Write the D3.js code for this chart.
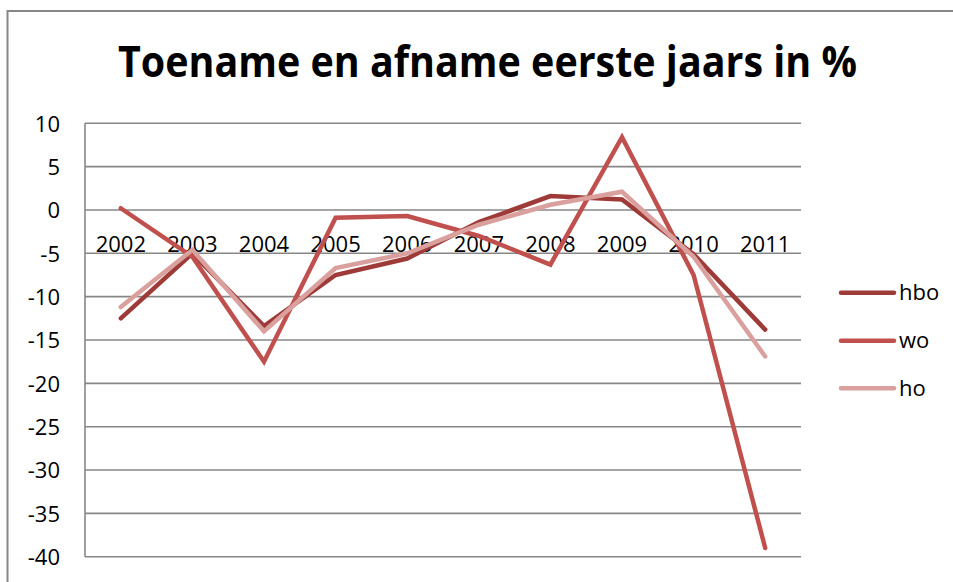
<!DOCTYPE html>
<html>
<head>
<meta charset="utf-8">
<script src="https://cdn.jsdelivr.net/npm/d3@7/dist/d3.min.js"></script>
<style>
  html, body { margin: 0; padding: 0; background: #fff; }
  svg { display: block; }
  text { font-family: "Open Sans", "Liberation Sans", sans-serif; fill: #000; }
</style>
</head>
<body>
<svg id="chart" width="953" height="582"></svg>
<script>
const years = ["2002","2003","2004","2005","2006","2007","2008","2009","2010","2011"];
const hbo = [-12.5, -5.0, -13.4, -7.5, -5.6, -1.4, 1.6, 1.2, -5.1, -13.8];
const wo  = [0.2, -5.4, -17.5, -0.9, -0.7, -3.0, -6.3, 8.4, -7.5, -39.0];
const ho  = [-11.2, -4.6, -14.0, -6.7, -5.0, -1.7, 0.6, 2.1, -5.4, -16.9];
const seriesNames = ["hbo", "wo", "ho"];
const seriesColors = ["#9E3B38", "#C0504D", "#D9A09E"];
const yTicks = [10, 5, 0, -5, -10, -15, -20, -25, -30, -35, -40];
const title = "Toename en afname eerste jaars in %";

const svg = d3.select("#chart");
const W = 953, H = 582;
const plot = { left: 85, right: 801, top: 123.3, bottom: 556.7 };

// chart border
svg.append("path")
  .attr("d", `M7.5,${H + 5} L7.5,11 L${W + 5},11`)
  .attr("fill", "none").attr("stroke", "#878787").attr("stroke-width", 2);

// title
svg.append("text")
  .attr("x", 118).attr("y", 77)
  .attr("font-size", 43).attr("font-weight", "bold")
  .attr("textLength", 739).attr("lengthAdjust", "spacingAndGlyphs")
  .text(title);

const x = d3.scaleBand().domain(years).range([plot.left, plot.right]);
const y = d3.scaleLinear().domain([-40, 10]).range([plot.bottom, plot.top]);

// gridlines
svg.append("g").selectAll("line").data(yTicks).join("line")
  .attr("x1", plot.left).attr("x2", plot.right)
  .attr("y1", d => y(d)).attr("y2", d => y(d))
  .attr("stroke", "#878787").attr("stroke-width", 1.6);

// left axis line
svg.append("line")
  .attr("x1", plot.left).attr("x2", plot.left)
  .attr("y1", plot.top).attr("y2", plot.bottom)
  .attr("stroke", "#878787").attr("stroke-width", 1.6);

// y tick labels
const yAxis = d3.axisLeft(y).tickValues(yTicks).tickSize(0).tickPadding(0).tickFormat(d => String(d));
const ya = svg.append("g").attr("transform", "translate(60,0)").call(yAxis);
ya.select(".domain").remove();
ya.selectAll("text").attr("font-size", 22).attr("font-family", '"Open Sans", sans-serif').attr("dy", "0.35em").attr("fill", "#000");

// x category labels near zero line
const xAxis = d3.axisBottom(x).tickSize(0).tickPadding(0);
const xa = svg.append("g").attr("transform", `translate(0,${y(0)})`).call(xAxis);
xa.select(".domain").remove();
xa.selectAll("text").attr("font-size", 22).attr("font-family", '"Open Sans", sans-serif').attr("y", 42.5).attr("dy", 0).attr("fill", "#000");

// lines
const allSeries = [hbo, wo, ho];
const line = d3.line()
  .x((d, i) => x(years[i]) + x.bandwidth() / 2)
  .y(d => y(d));
allSeries.forEach((s, k) => {
  svg.append("path").datum(s)
    .attr("d", line)
    .attr("fill", "none")
    .attr("stroke", seriesColors[k])
    .attr("stroke-width", 4.5)
    .attr("stroke-linecap", "round")
    .attr("stroke-linejoin", "miter");
});

// legend
const legY = [292.7, 340.7, 388.3];
const leg = svg.append("g");
seriesNames.forEach((n, k) => {
  leg.append("line")
    .attr("x1", 841).attr("x2", 894)
    .attr("y1", legY[k]).attr("y2", legY[k])
    .attr("stroke", seriesColors[k]).attr("stroke-width", 4.5)
    .attr("stroke-linecap", "round");
  leg.append("text")
    .attr("x", 899).attr("y", legY[k]).attr("dy", "0.35em")
    .attr("font-size", 22)
    .text(n);
});
</script>
</body>
</html>
